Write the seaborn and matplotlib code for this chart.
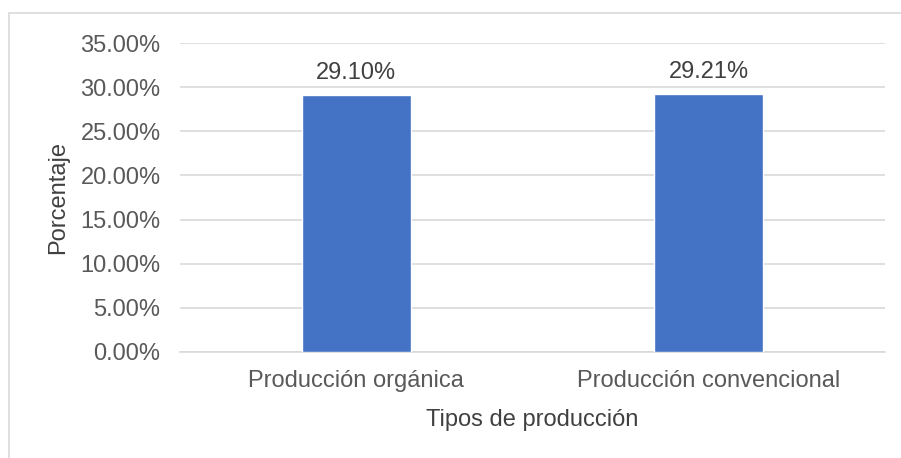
import pandas as pd
import seaborn as sns
import matplotlib.pyplot as plt
from matplotlib.patches import Rectangle
from matplotlib.ticker import FuncFormatter

# data
categorias = ["Producción orgánica", "Producción convencional"]
porcentajes = [29.10, 29.21]
y_ticks = [0, 5, 10, 15, 20, 25, 30, 35]

df = pd.DataFrame({"tipo": categorias, "pct": porcentajes})

sns.set_theme(style="white")
plt.rcParams['font.family'] = ['Liberation Sans', 'DejaVu Sans']

fig = plt.figure(figsize=(9.01, 4.58), dpi=100)
ax = fig.add_axes([180 / 901, 1 - 352 / 458, 705 / 901, 309 / 458])

sns.barplot(data=df, x="tipo", y="pct", color="#4472C4", width=0.31,
            saturation=1, ax=ax, zorder=3)

ax.set_ylim(0, 35)
ax.set_yticks(y_ticks)
ax.yaxis.set_major_formatter(FuncFormatter(lambda v, p: f"{v:.2f}%"))
ax.grid(axis="y", color="#D9D9D9", linewidth=1.2, zorder=0)
ax.grid(axis="x", visible=False)
for side in ["top", "right", "left"]:
    ax.spines[side].set_visible(False)
ax.spines["bottom"].set_color("#D9D9D9")
ax.spines["bottom"].set_linewidth(1.2)

ax.tick_params(axis="y", length=0, pad=14, labelsize=17, labelcolor="#595959")
ax.tick_params(axis="x", length=0, pad=13, labelsize=17, labelcolor="#595959")

ax.set_xlabel("Tipos de producción", fontsize=17, color="#404040", labelpad=12)
ax.set_ylabel("Porcentaje", fontsize=17, color="#404040", labelpad=8)

for cont in ax.containers:
    ax.bar_label(cont, fmt="%.2f%%", padding=8, fontsize=17, color="#404040")

# chart border
fig.patches.append(Rectangle((9 / 901, -0.1), 1.0, 1.1 - 13 / 458,
                             transform=fig.transFigure, fill=False,
                             edgecolor="#D9D9D9", linewidth=1.2))

fig.savefig("out.png", dpi=100)
